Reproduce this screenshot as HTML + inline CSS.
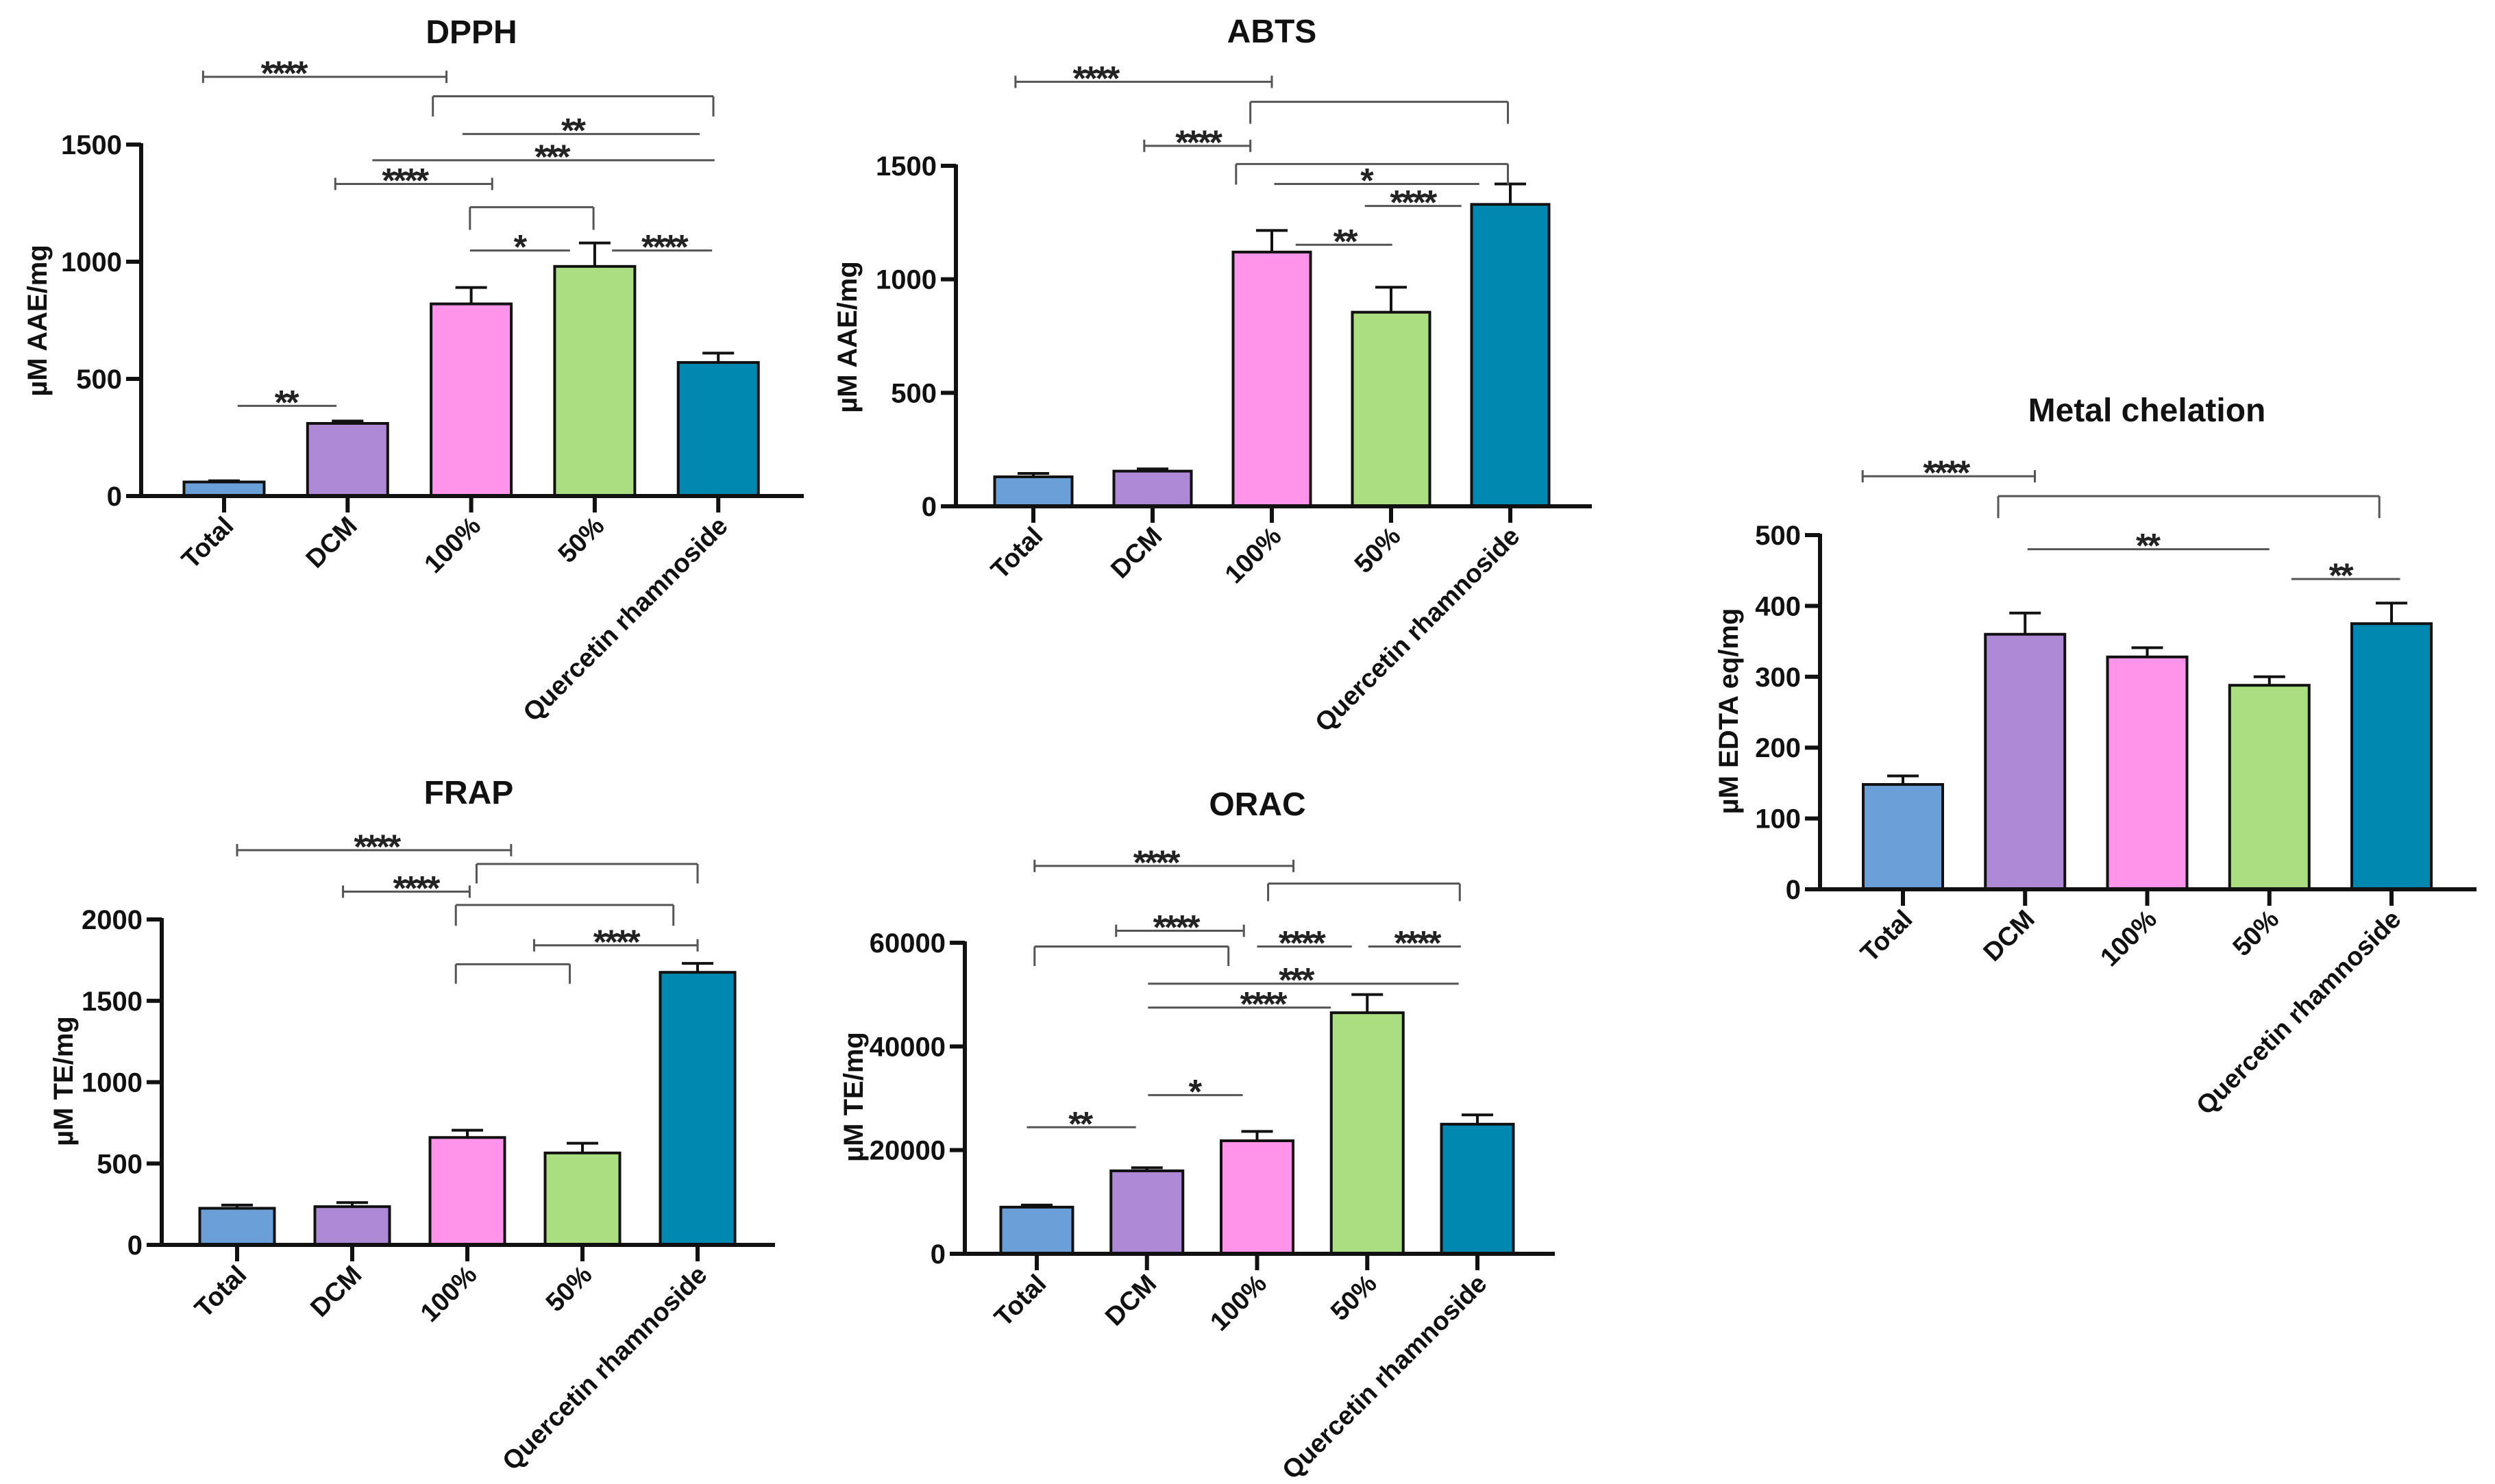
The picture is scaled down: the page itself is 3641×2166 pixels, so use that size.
<!DOCTYPE html>
<html><head><meta charset="utf-8"><style>
html,body{margin:0;padding:0;background:#fff;}
svg{display:block;font-family:"Liberation Sans",Arial,sans-serif;}
</style></head><body>
<svg id="fig" width="3641" height="2166" viewBox="0 0 3641 2166" xmlns="http://www.w3.org/2000/svg"></svg>
<script>
const categories = ["Total","DCM","100%","50%","Quercetin rhamnoside"];
const colors = ["#6a9fd8","#ae8ad6","#ff94ea","#abde80","#0088b0"];

const dpphValues = [60, 310, 820, 980, 570];
const dpphErrors = [65, 320, 890, 1080, 610];
const dpphTicks = [0, 500, 1000, 1500];
const dpphAnn = [[-0.17,1.80,1789,"c","****",0.48],[1.69,3.96,1706,"b","",0,1620],[1.93,3.85,1545,"p","**",2.82],[1.20,3.97,1433,"p","***",2.65],[0.90,2.17,1332,"c","****",1.46],[1.99,2.99,1233,"b","",0,1136],[1.99,2.80,1048,"p","*",2.39],[3.14,3.95,1048,"p","****",3.56],[0.11,0.91,385,"p","**",0.50]];

const abtsValues = [130, 155, 1120, 855, 1330];
const abtsErrors = [145, 165, 1215, 965, 1420];
const abtsTicks = [0, 500, 1000, 1500];
const abtsAnn = [[-0.15,2.0,1870,"c","****",0.52],[1.82,3.98,1782,"b","",0,1685],[0.93,1.82,1588,"c","****",1.38],[1.70,3.98,1508,"b","",0,1417],[2.02,3.74,1420,"p","*",2.79],[2.78,3.59,1323,"p","****",3.18],[2.20,3.01,1152,"p","**",2.61]];

const metalValues = [148, 360, 328, 288, 375];
const metalErrors = [160, 390, 341, 300, 404];
const metalTicks = [0, 100, 200, 300, 400, 500];
const metalAnn = [[-0.33,1.08,583,"c","****",0.35],[0.78,3.90,555,"b","",0,524],[1.02,3.0,480,"p","**",2.0],[3.18,4.07,438,"p","**",3.58]];

const frapValues = [225, 235, 660, 565, 1675];
const frapErrors = [245, 260, 705, 625, 1730];
const frapTicks = [0, 500, 1000, 1500, 2000];
const frapAnn = [[0,2.38,2426,"c","****",1.21],[2.08,4.0,2341,"b","",0,2221],[0.92,2.02,2171,"c","****",1.55],[1.90,3.79,2089,"b","",0,1961],[2.58,4.0,1841,"c","****",3.29],[1.90,2.89,1725,"b","",0,1605]];

const oracValues = [9000, 16000, 21800, 46500, 25000];
const oracErrors = [9400, 16600, 23600, 50000, 26800];
const oracTicks = [0, 20000, 40000, 60000];
const oracAnn = [[-0.02,2.33,74820,"c","****",1.08],[2.10,3.84,71420,"b","",0,68020],[0.72,1.88,62310,"c","****",1.26],[2.0,2.86,59270,"p","****",2.40],[3.01,3.85,59270,"p","****",3.45],[-0.02,1.74,59270,"b","",0,55510],[1.01,3.83,52110,"p","***",2.35],[1.01,2.67,47490,"p","****",2.05],[1.01,1.87,30610,"p","*",1.43],[-0.09,0.90,24410,"p","**",0.39]];

const NS="http://www.w3.org/2000/svg";
const svg=document.getElementById("fig");
function mk(tag,attrs,parent){const e=document.createElementNS(NS,tag);for(const k in attrs)e.setAttribute(k,attrs[k]);(parent||svg).appendChild(e);return e;}

function panel(p){
  const g=mk("g",{});
  
  
  const Y=v=>p.y0-(v/p.yMax)*(p.y0-p.yTop);
  const X=i=>p.x0+p.step*i;
  const t=mk("text",{x:p.tx,y:p.ty,"text-anchor":"middle","font-size":48,"font-weight":"bold",fill:"#111"},g);
  t.textContent=p.title;
  
  
  const yt=mk("text",{x:0,y:0,"text-anchor":"middle","font-size":40,"font-weight":"bold",fill:"#111",transform:`translate(${p.ytx},${p.yty}) rotate(-90)`},g);
  yt.textContent=p.ytitle;
  
  
  p.values.forEach((v,i)=>{
    const cx=X(i);
    const r=mk("rect",{x:cx-p.bw/2,y:Y(v),width:p.bw,height:p.y0-Y(v),fill:colors[i],stroke:"#111","stroke-width":4},g);
    
    
    const ey=Y(p.errors[i]);
    const e1=mk("line",{x1:cx,x2:cx,y1:Y(v),y2:ey,stroke:"#111","stroke-width":4},g);
    
    
    const e2=mk("line",{x1:cx-23,x2:cx+23,y1:ey,y2:ey,stroke:"#111","stroke-width":4},g);
    
    
    const xt=mk("line",{x1:cx,x2:cx,y1:p.y0,y2:p.y0+24,stroke:"#111","stroke-width":6},g);
    
    
    const lb=mk("text",{x:0,y:0,"text-anchor":"end","font-size":38,"font-weight":"bold",fill:"#111",transform:`translate(${cx+16},${p.y0+46}) rotate(-45)`},g);
    lb.textContent=categories[i];
    
    
  });
  const ya=mk("line",{x1:p.ax,x2:p.ax,y1:p.yTop-2,y2:p.y0+3,stroke:"#111","stroke-width":6},g);
  
  
  const xa=mk("line",{x1:p.ax-3,x2:p.axEnd,y1:p.y0,y2:p.y0,stroke:"#111","stroke-width":6},g);
  
  
  p.ticks.forEach(tv=>{
    const ty=Y(tv);
    const tk=mk("line",{x1:p.ax-22,x2:p.ax,y1:ty,y2:ty,stroke:"#111","stroke-width":6},g);
    
    
    const tl=mk("text",{x:p.ax-28,y:ty+14,"text-anchor":"end","font-size":40,"font-weight":"bold",fill:"#111"},g);
    tl.textContent=String(tv);
    
    
  });
  p.ann.forEach(a=>{
    const x1=X(a[0]),x2=X(a[1]),y=Y(a[2]);
    const col="#555";
    const ln=mk("line",{x1:x1,x2:x2,y1:y,y2:y,stroke:col,"stroke-width":3},g);
    
    
    if(a[3]==="c"){
      [x1,x2].forEach(xx=>{const c=mk("line",{x1:xx,x2:xx,y1:y-9,y2:y+9,stroke:col,"stroke-width":3},g);
        
        });
    } else if(a[3]==="b"){
      const yb=Y(a[6]);
      [x1,x2].forEach(xx=>{const c=mk("line",{x1:xx,x2:xx,y1:y,y2:yb,stroke:col,"stroke-width":3},g);
        
        });
    }
    if(a[4]){
      const st=mk("text",{x:X(a[5]),y:y+12,"text-anchor":"middle","font-size":50,"font-weight":"bold",fill:"#222","letter-spacing":"-3"},g);
      st.textContent=a[4];
      
      
    }
  });
}

panel({name:"dpph",title:"DPPH",ytitle:"µM AAE/mg",values:dpphValues,errors:dpphErrors,ticks:dpphTicks,ann:dpphAnn,
  yMax:1500,y0:724,yTop:211,ax:206,axEnd:1173,x0:327,step:180.3,bw:117,tx:688,ty:63,ytx:68,yty:468});
panel({name:"abts",title:"ABTS",ytitle:"µM AAE/mg",values:abtsValues,errors:abtsErrors,ticks:abtsTicks,ann:abtsAnn,
  yMax:1500,y0:739,yTop:242,ax:1395,axEnd:2323,x0:1508,step:174,bw:113,tx:1856,ty:62,ytx:1250,yty:492});
panel({name:"metal-chelation",title:"Metal chelation",ytitle:"µM EDTA eq/mg",values:metalValues,errors:metalErrors,ticks:metalTicks,ann:metalAnn,
  yMax:500,y0:1298,yTop:781,ax:2656,axEnd:3614,x0:2777,step:178.25,bw:116,tx:3133,ty:615,ytx:2536,yty:1038});
panel({name:"frap",title:"FRAP",ytitle:"µM TE/mg",values:frapValues,errors:frapErrors,ticks:frapTicks,ann:frapAnn,
  yMax:2000,y0:1817,yTop:1342,ax:236,axEnd:1131,x0:346,step:168,bw:109,tx:684,ty:1173,ytx:106,yty:1578});
panel({name:"orac",title:"ORAC",ytitle:"µM TE/mg",values:oracValues,errors:oracErrors,ticks:oracTicks,ann:oracAnn,
  yMax:60000,y0:1830,yTop:1376,ax:1408,axEnd:2269,x0:1513,step:160.75,bw:105,tx:1835,ty:1190,ytx:1259,yty:1601});
</script>
</body></html>
